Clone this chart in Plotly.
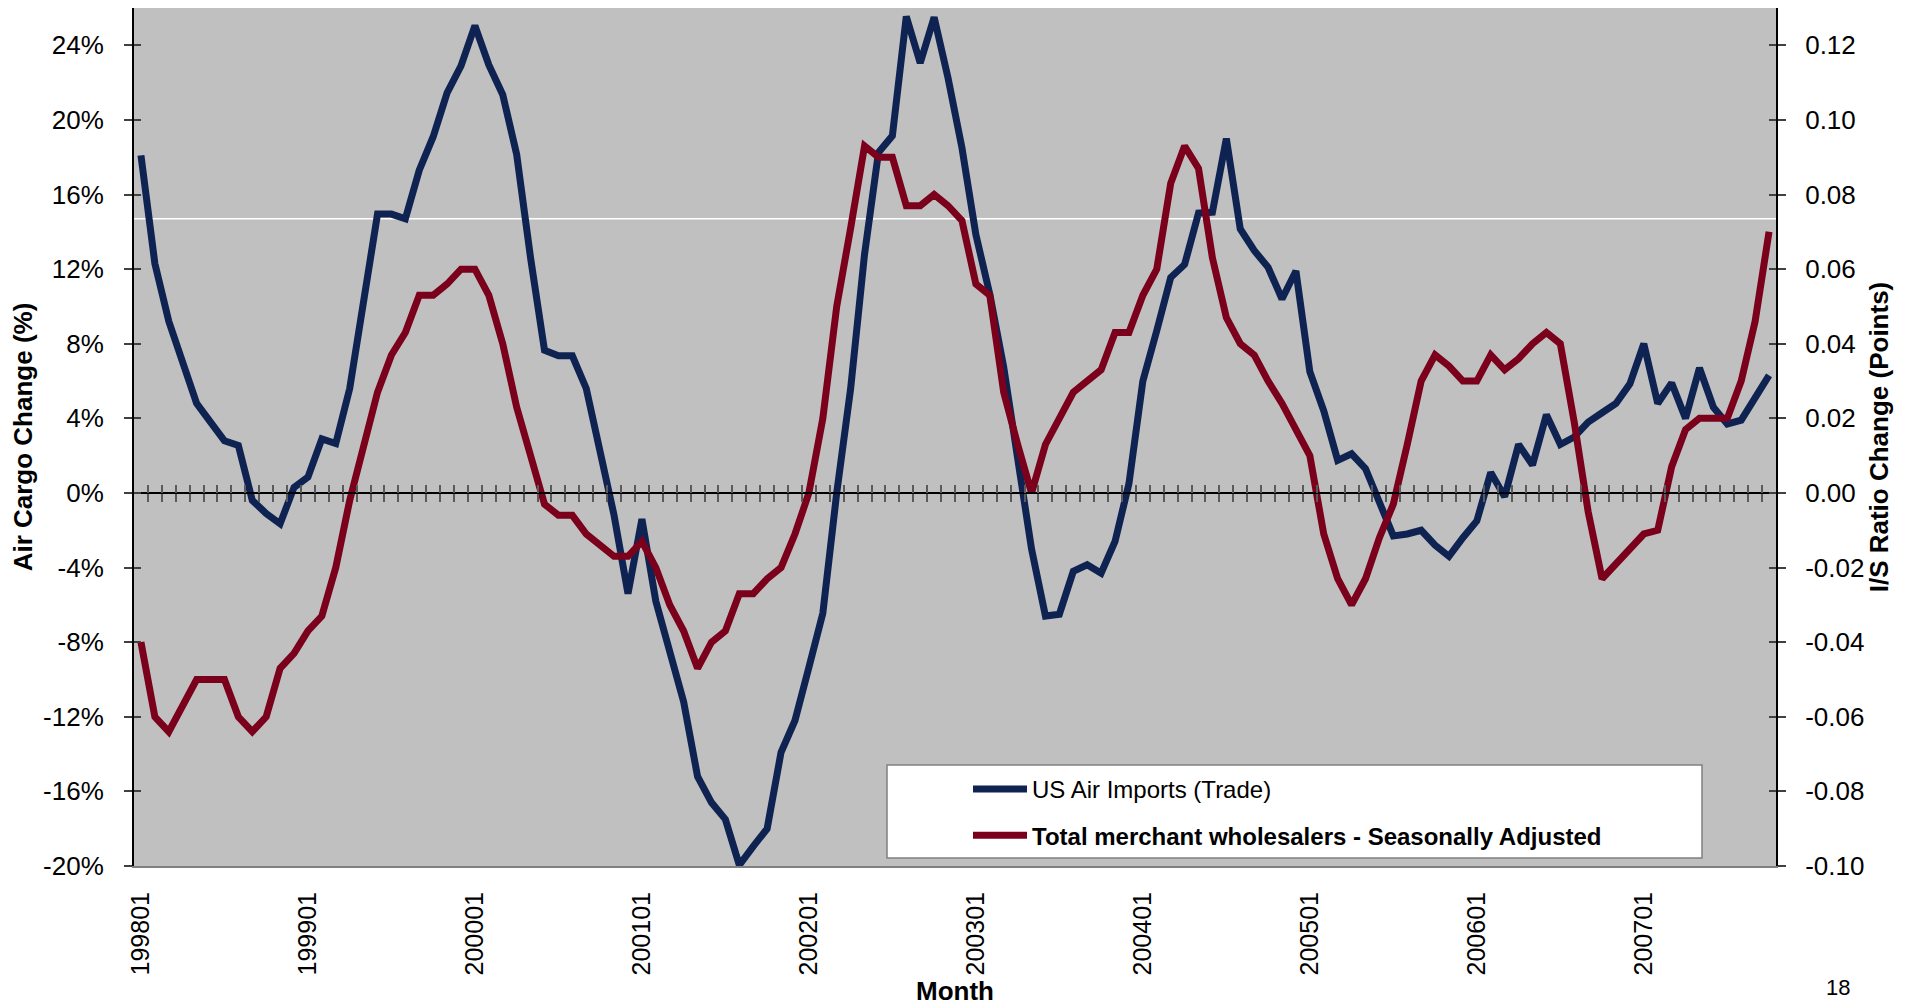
import plotly.graph_objects as go

# monthly categories 199801 .. 200710
months = [f"{y}{m:02d}" for y in range(1998, 2008) for m in range(1, 13)][:118]
year_ticks = months[::12]

# US Air Imports (Trade), % change (left axis)
air_imports_pct = [
    18.1, 12.3, 9.2, 6.9, 4.8, 3.8, 2.8, 2.55, -0.4, -1.1, -1.65, 0.3,
    0.85, 2.9, 2.65, 5.6, 10.3, 14.95, 14.95, 14.7, 17.3, 19.1, 21.45, 22.9,
    25.05, 22.95, 21.35, 18.15, 12.6, 7.65, 7.35, 7.35, 5.6, 2.4, -1.2, -5.4,
    -1.4, -5.8, -8.35, -11.2, -15.2, -16.6, -17.5, -19.95, -18.95, -18.0, -13.9, -12.2,
    -9.35, -6.45, 0.0, 5.6, 12.8, 18.25, 19.15, 25.55, 23.05, 25.5, 22.25, 18.5,
    13.85, 10.65, 6.75, 1.6, -3.0, -6.6, -6.5, -4.2, -3.85, -4.3, -2.6, 0.5,
    6.0, 8.7, 11.55, 12.25, 15.0, 15.05, 19.0, 14.15, 13.0, 12.1, 10.4, 11.9,
    6.5, 4.4, 1.75, 2.1, 1.3, -0.5, -2.3, -2.2, -2.0, -2.8, -3.4, -2.4,
    -1.5, 1.1, -0.2, 2.6, 1.5, 4.2, 2.6, 3.0, 3.8, 4.3, 4.8, 5.85,
    8.0, 4.8, 5.9, 4.0, 6.7, 4.6, 3.7, 3.9, 5.05, 6.3,
]

# Total merchant wholesalers I/S ratio change, points (right axis)
wholesale_is_chg = [
    -0.040, -0.060, -0.064, -0.057, -0.050, -0.050, -0.050, -0.060, -0.064, -0.060, -0.047, -0.043,
    -0.037, -0.033, -0.020, -0.002, 0.013, 0.027, 0.037, 0.043, 0.053, 0.053, 0.056, 0.060,
    0.060, 0.053, 0.040, 0.023, 0.010, -0.003, -0.006, -0.006, -0.011, -0.014, -0.017, -0.017,
    -0.013, -0.020, -0.030, -0.037, -0.047, -0.040, -0.037, -0.027, -0.027, -0.023, -0.020, -0.011,
    0.000, 0.020, 0.050, 0.071, 0.093, 0.090, 0.090, 0.077, 0.077, 0.080, 0.077, 0.073,
    0.056, 0.053, 0.027, 0.013, 0.000, 0.013, 0.020, 0.027, 0.030, 0.033, 0.043, 0.043,
    0.053, 0.060, 0.083, 0.093, 0.087, 0.063, 0.047, 0.040, 0.037, 0.030, 0.024, 0.017,
    0.010, -0.011, -0.023, -0.030, -0.023, -0.012, -0.003, 0.013, 0.030, 0.037, 0.034, 0.030,
    0.030, 0.037, 0.033, 0.036, 0.040, 0.043, 0.040, 0.019, -0.005, -0.023, -0.019, -0.015,
    -0.011, -0.010, 0.007, 0.017, 0.020, 0.020, 0.020, 0.030, 0.046, 0.070,
]

left_ticks = [-20, -16, -12, -8, -4, 0, 4, 8, 12, 16, 20, 24]
right_ticks = [-0.10, -0.08, -0.06, -0.04, -0.02, 0.0, 0.02, 0.04, 0.06, 0.08, 0.10, 0.12]

BLUE = "#0F2352"
RED = "#7B001C"
FONT = "Liberation Sans, Arial, sans-serif"
n = len(months)

# page is offset by the 8px body margin; plot area spans x 134..1776, y 8..866 on the page
PX0, PW, PY1, PH = 134, 1642, 866, 858


def px(x):
    return (x - PX0) / PW


def py(y):
    return (PY1 - y) / PH


fig = go.Figure()
fig.add_trace(go.Scatter(
    x=months, y=air_imports_pct, mode="lines", name="US Air Imports (Trade)",
    line=dict(color=BLUE, width=7), legendgroup="a",
))
fig.add_trace(go.Scatter(
    x=months, y=wholesale_is_chg, mode="lines", yaxis="y2",
    name="<b>Total merchant wholesalers - Seasonally Adjusted</b>",
    line=dict(color=RED, width=7), legendgroup="b",
))
# empty helpers so the decoration axes get drawn
for xa, ya in [("x2", "y"), ("x3", "y"), ("x", "y3"), ("x", "y4")]:
    fig.add_trace(go.Scatter(x=[None], y=[None], xaxis=xa, yaxis=ya,
                             showlegend=False, hoverinfo="skip"))

boundaries = [i + 0.5 for i in range(n - 1)]
zero_pos = 20 / 46

fig.update_layout(
    template="none",
    width=1905, height=998,
    paper_bgcolor="white", plot_bgcolor="#C0C0C0",
    margin=dict(l=126, r=137, t=0, b=140, autoexpand=False),
    font=dict(family=FONT, size=26, color="black"),
    xaxis=dict(
        type="category", categoryorder="array", categoryarray=months, automargin=False,
        range=[-0.5, n - 0.5], tickmode="array", tickvals=year_ticks, ticktext=year_ticks,
        tickangle=-90, tickfont=dict(size=25), ticks="", ticklabelstandoff=14,
        showline=True, linecolor="#808080", linewidth=2, mirror=True,
        showgrid=False, zeroline=False,
        title=dict(text="Month", font=dict(size=26, weight="bold"), standoff=8),
    ),
    xaxis2=dict(
        overlaying="x", anchor="free", position=zero_pos, range=[-0.5, n - 0.5],
        automargin=False, tickmode="array", tickvals=boundaries, ticks="outside", ticklen=8,
        tickwidth=1.5, tickcolor="#5A5A5A", showticklabels=False,
        showline=True, linecolor="black", linewidth=1.5, showgrid=False, zeroline=False,
    ),
    xaxis3=dict(
        overlaying="x", anchor="free", position=zero_pos, side="top", range=[-0.5, n - 0.5],
        automargin=False, tickmode="array", tickvals=boundaries, ticks="outside", ticklen=8,
        tickwidth=1.5, tickcolor="#5A5A5A", showticklabels=False,
        showline=False, showgrid=False, zeroline=False,
    ),
    yaxis=dict(
        range=[-20, 26], tickmode="array", tickvals=left_ticks, automargin=False,
        ticktext=[f"{v}%" for v in left_ticks], ticks="outside", ticklen=8,
        tickwidth=1.5, tickcolor="#404040", ticklabelstandoff=15,
        showline=True, linecolor="black", linewidth=2, showgrid=False, zeroline=False,
        title=dict(text="Air Cargo Change (%)", font=dict(size=26, weight="bold"), standoff=10),
    ),
    yaxis2=dict(
        overlaying="y", side="right", anchor="x", range=[-0.10, 0.13], tickmode="array",
        tickvals=right_ticks, ticktext=[f"{v:.2f}" for v in right_ticks], automargin=False,
        ticks="outside", ticklen=8, tickwidth=1.5, tickcolor="#404040", ticklabelstandoff=14,
        showline=True, linecolor="black", linewidth=2, showgrid=False, zeroline=False,
        title=dict(text="I/S Ratio Change (Points)", font=dict(size=26, weight="bold"), standoff=5),
    ),
    yaxis3=dict(
        overlaying="y", side="left", anchor="x", range=[-20, 26], tickmode="array",
        automargin=False, tickvals=left_ticks, ticks="inside", ticklen=7, tickwidth=1.5,
        tickcolor="#404040", showticklabels=False, showline=False, showgrid=False, zeroline=False,
    ),
    yaxis4=dict(
        overlaying="y", side="right", anchor="x", range=[-0.10, 0.13], tickmode="array",
        automargin=False, tickvals=right_ticks, ticks="inside", ticklen=7, tickwidth=1.5,
        tickcolor="#404040", showticklabels=False, showline=False, showgrid=False, zeroline=False,
    ),
    legend=dict(
        x=px(968), y=py(767), xanchor="left", yanchor="top",
        bgcolor="rgba(0,0,0,0)", borderwidth=0, font=dict(size=24, color="black"),
        itemwidth=54, traceorder="grouped", tracegroupgap=12,
    ),
    shapes=[
        dict(type="line", xref="paper", yref="y", x0=0, x1=1, y0=14.7, y1=14.7,
             line=dict(color="white", width=1.5), layer="below"),
        dict(type="rect", xref="paper", yref="paper",
             x0=px(887), x1=px(1702), y0=py(858), y1=py(765),
             fillcolor="white", line=dict(color="#808080", width=1.5), layer="above"),
    ],
    annotations=[
        dict(text="18", xref="paper", yref="paper", x=px(1838), y=py(987),
             xanchor="center", yanchor="middle",
             showarrow=False, font=dict(size=22, color="black")),
    ],
)

fig.write_html("out.html")
